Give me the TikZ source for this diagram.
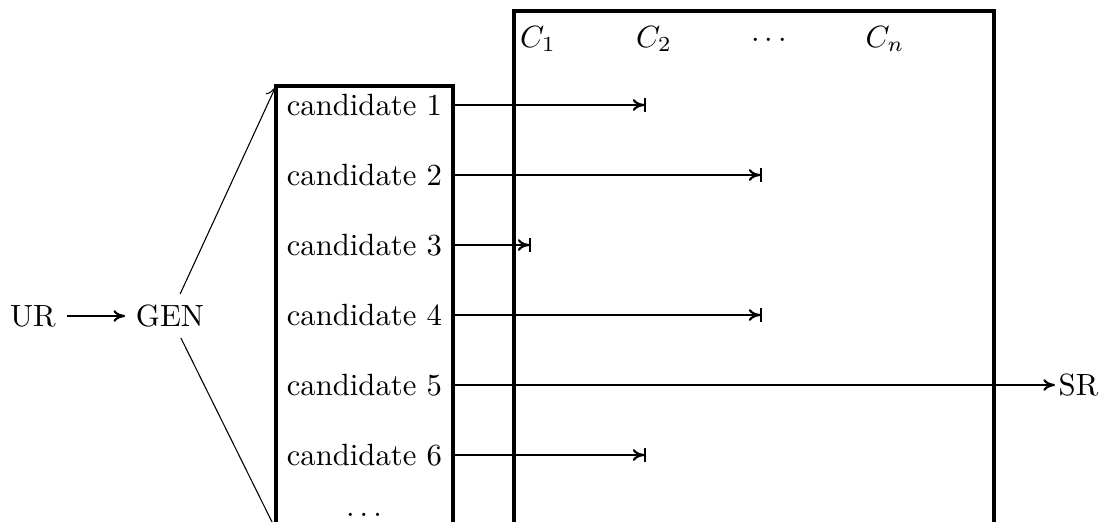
\documentclass[tikz,border=0pt]{standalone}
\usetikzlibrary{arrows.meta}
\begin{document}
\begin{tikzpicture}[x=0.3257pt,y=-0.3257pt,
  boxline/.style={line width=1pt},
  candarrow/.style={line width=0.7pt,-{To[length=3.8pt,width=3.8pt]Bar[width=4.6pt,line width=0.5pt]}},
  plainarrow/.style={line width=0.7pt,-{To[length=3.8pt,width=3.8pt]}},
  thinarrow/.style={line width=0.35pt,-{To[length=3.8pt,width=4pt]}},
  cand/.style={anchor=west,inner sep=3.33pt}]
\clip (0,0) rectangle (1106,522);
% boxes
\coordinate (bl) at (276,86);
\coordinate (bb) at (276,530);
\draw[boxline] (276,560) -- (bl) -- (453,86) -- (453,560);
\draw[boxline] (514,560) -- (514,11) -- (994,11) -- (994,560);
% constraint labels
\node[anchor=base] (c1) at (538,47) {$C_1$};
\node[anchor=base] (c2) at (654,47) {$C_2$};
\node[anchor=base] (cd) at (769,47) {$\cdots$};
\node[anchor=base] (cn) at (885,47) {$C_n$};
% left part
\node (ur) at (33,316) {UR};
\node (gen) at (170,316) {GEN};
\draw[plainarrow] (ur) -- (gen);
\draw[thinarrow] (gen) -- (bl);
\draw[thinarrow] (gen) -- (bb);
% candidates
\foreach \i/\y in {1/105,2/175,3/245,4/315,5/385,6/455}{
  \node[cand] (cand\i) at (276,\y) {candidate \i};
  \coordinate (s\i) at (453,\y);
}
\node[anchor=base] (dots) at (364,516) {$\ldots$};
\coordinate (e1) at (646,105);
\coordinate (e2) at (762,175);
\coordinate (e3) at (531,245);
\coordinate (e4) at (762,315);
\coordinate (e6) at (646,455);
\node[inner sep=1pt,anchor=west] (sr) at (1055,385) {SR};
\draw[candarrow] (s1) -- (e1);
\draw[candarrow] (s2) -- (e2);
\draw[candarrow] (s3) -- (e3);
\draw[candarrow] (s4) -- (e4);
\draw[plainarrow] (s5) -- (sr.west);
\draw[candarrow] (s6) -- (e6);
\end{tikzpicture}
\end{document}
